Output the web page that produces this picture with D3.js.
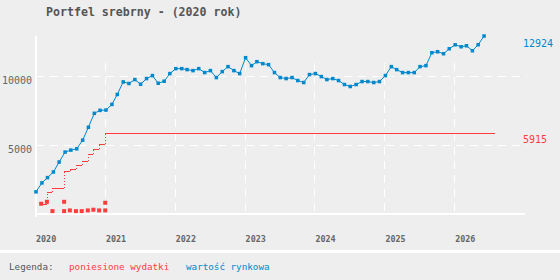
<!DOCTYPE html>
<html>
<head>
<meta charset="utf-8">
<script src="https://cdn.jsdelivr.net/npm/d3@7"></script>
<style>
    body { margin: 0; background: #eeeeee; }
    svg { display: block; font-family: "DejaVu Sans Mono", monospace; }
    .grid { stroke: #ffffff; stroke-width: 1.5; stroke-dasharray: 8,6; shape-rendering: crispEdges; }
    .axis { stroke: #ffffff; stroke-width: 2; shape-rendering: crispEdges; }
    .market { fill: none; stroke: #0088cc; stroke-width: 1; }
    .market-point { fill: #0088cc; }
    .spent { fill: #ff3c3c; shape-rendering: crispEdges; }
    .spent-step { stroke: #ff3c3c; stroke-width: 1; stroke-dasharray: 1,2; shape-rendering: crispEdges; }
    .purchase { fill: #ff3c3c; }
</style>
</head>
<body>
<svg id="chart" width="560" height="280"></svg>
<script>
// market value, one reading at the start of every month (stop is exclusive)
var marketStart = '2020-01-01';
var marketStop = '2026-07-01';
var marketValues = [
    1609, 2258, 2641, 3052, 3773, 4495, 4639, 4733, 5361, 6299, 7309, 7525,
    7547, 7958, 8680, 9589, 9473, 9762, 9423, 9834, 10050, 9495, 9639, 10195,
    10555, 10555, 10483, 10411, 10555, 10267, 10411, 9906, 10339, 10700, 10411, 10195,
    11349, 10772, 11061, 10916, 10844, 10267, 9906, 9834, 9906, 9690, 9545, 10123,
    10195, 9978, 9762, 9834, 9690, 9401, 9257, 9401, 9617, 9617, 9545, 9617,
    10050, 10700, 10483, 10267, 10267, 10267, 10700, 10772, 11710, 11782, 11638, 11999,
    12287, 12143, 12215, 11854, 12287, 12924
];

// cumulative expenses (step line)
var spentDates = ['2020-01-28', '2020-02-27', '2020-03-27', '2020-05-27', '2020-06-26', '2020-07-28',
    '2020-08-27', '2020-09-28', '2020-10-27', '2020-11-26', '2020-12-28'];
var spentValues = [743, 1609, 1898, 3124, 3268, 3557, 3845, 4350, 4711, 5072, 5915];
var spentStop = '2026-07-28';

// single purchases
var purchaseDates = ['2020-01-28', '2020-02-27', '2020-03-27', '2020-05-27', '2020-05-27', '2020-06-26',
    '2020-07-28', '2020-08-27', '2020-09-28', '2020-10-27', '2020-11-26', '2020-12-28', '2020-12-28'];
var purchaseValues = [743, 887, 209, 887, 209, 260, 209, 209, 260, 310, 260, 815, 260];

var yearTicks = [2020, 2021, 2022, 2023, 2024, 2025, 2026];
var valueTicks = [5000, 10000];

var title = 'Portfel srebrny - (2020 rok)';
var legendLabel = 'Legenda:';
var spentLabel = 'poniesione wydatki';
var marketLabel = 'wartość rynkowa';

var settings = {
    left: 36,
    right: 525,
    top: 36,
    bottom: 214,
    gridTop: 63,
    tickBottom: 217,
    gridRight: 527
};

var parse = d3.timeParse('%Y-%m-%d');
var svg = d3.select('#chart');

var marketMonths = d3.timeMonth.range(parse(marketStart), parse(marketStop));
var market = marketMonths.map(function(d, i) { return { date: d, value: marketValues[i] }; });
var spent = spentDates.map(function(d, i) { return { date: parse(d), value: spentValues[i] }; });
var purchases = purchaseDates.map(function(d, i) { return { date: parse(d), value: purchaseValues[i] }; });

var x = d3.scaleTime()
    .domain([new Date(2020, 0, 1), new Date(2027, 0, 1)])
    .range([settings.left, settings.right]);
var y = d3.scaleLinear()
    .domain([0, d3.max(marketValues)])
    .range([settings.bottom, settings.top]);

function yearDate(year) { return new Date(year, 0, 1); }

function drawLayout() {
    svg.append('rect')
        .attr('width', 560)
        .attr('height', 280)
        .attr('fill', '#eeeeee');

    // legend separator
    svg.append('rect')
        .attr('x', 0)
        .attr('y', 250)
        .attr('width', 560)
        .attr('height', 3)
        .attr('fill', '#ffffff');

    svg.append('text')
        .attr('x', 46)
        .attr('y', 16)
        .attr('font-size', 11.6)
        .attr('font-weight', 'bold')
        .attr('fill', '#555555')
        .text(title);
}

function drawGrid() {
    svg.selectAll('.hgrid')
            .data(valueTicks)
        .enter().append('line')
            .attr('class', 'grid hgrid')
            .attr('x1', settings.left)
            .attr('x2', settings.gridRight)
            .attr('y1', function(d) { return Math.round(y(d)) + 0.5; })
            .attr('y2', function(d) { return Math.round(y(d)) + 0.5; });

    svg.selectAll('.vgrid')
            .data(yearTicks.slice(1))
        .enter().append('line')
            .attr('class', 'grid vgrid')
            .attr('x1', function(d) { return Math.round(x(yearDate(d))) - 0.5; })
            .attr('x2', function(d) { return Math.round(x(yearDate(d))) - 0.5; })
            .attr('y1', settings.gridTop)
            .attr('y2', settings.tickBottom);

    // axes
    svg.append('line')
        .attr('class', 'axis')
        .attr('x1', settings.left)
        .attr('x2', settings.left)
        .attr('y1', settings.top)
        .attr('y2', settings.tickBottom);
    svg.append('line')
        .attr('class', 'axis')
        .attr('x1', settings.left)
        .attr('x2', settings.right)
        .attr('y1', settings.bottom)
        .attr('y2', settings.bottom);

    svg.selectAll('.ylabel')
            .data(valueTicks)
        .enter().append('text')
            .attr('class', 'ylabel')
            .attr('x', 32)
            .attr('y', function(d) { return y(d) + 8; })
            .attr('text-anchor', 'end')
            .attr('font-size', 10)
            .attr('fill', '#666666')
            .text(function(d) { return d; });

    svg.selectAll('.xlabel')
            .data(yearTicks)
        .enter().append('text')
            .attr('class', 'xlabel')
            .attr('x', function(d) { return x(yearDate(d)); })
            .attr('y', 242)
            .attr('font-size', 8.4)
            .attr('font-weight', 'bold')
            .attr('fill', '#666666')
            .text(function(d) { return d; });
}

function drawSpent() {
    var steps = spent.map(function(d, i) {
        var next = i < spent.length - 1 ? spent[i + 1].date : parse(spentStop);
        return { from: d.date, to: next, value: d.value, prev: i > 0 ? spent[i - 1].value : null };
    });

    // horizontal parts of the step line, 1px high
    svg.selectAll('.spent')
            .data(steps)
        .enter().append('rect')
            .attr('class', 'spent')
            .attr('x', function(d) { return Math.round(x(d.from)); })
            .attr('y', function(d) { return Math.round(y(d.value)); })
            .attr('width', function(d) { return Math.round(x(d.to)) - Math.round(x(d.from)); })
            .attr('height', 1);

    svg.selectAll('.spent-step')
            .data(steps.filter(function(d) { return d.prev !== null; }))
        .enter().append('line')
            .attr('class', 'spent-step')
            .attr('x1', function(d) { return Math.round(x(d.from)) + 0.5; })
            .attr('x2', function(d) { return Math.round(x(d.from)) + 0.5; })
            .attr('y1', function(d) { return y(d.prev); })
            .attr('y2', function(d) { return y(d.value); });

    svg.selectAll('.purchase')
            .data(purchases)
        .enter().append('rect')
            .attr('class', 'purchase')
            .attr('x', function(d) { return x(d.date) - 2; })
            .attr('y', function(d) { return y(d.value) - 2; })
            .attr('width', 4)
            .attr('height', 4);
}

function drawMarket() {
    var line = d3.line()
        .x(function(d) { return x(d.date); })
        .y(function(d) { return y(d.value); });

    svg.append('path')
        .datum(market)
        .attr('class', 'market')
        .attr('d', line);

    svg.selectAll('.market-point')
            .data(market)
        .enter().append('rect')
            .attr('class', 'market-point')
            .attr('x', function(d) { return x(d.date) - 1.75; })
            .attr('y', function(d) { return y(d.value) - 1.75; })
            .attr('width', 3.5)
            .attr('height', 3.5);
}

function drawEndLabels() {
    var lastMarket = market[market.length - 1];
    var lastSpent = spent[spent.length - 1];

    svg.append('text')
        .attr('x', 523)
        .attr('y', y(lastMarket.value) + 10.5)
        .attr('font-size', 10)
        .attr('fill', '#0088cc')
        .text(lastMarket.value);

    svg.append('text')
        .attr('x', 523)
        .attr('y', y(lastSpent.value) + 10.5)
        .attr('font-size', 10)
        .attr('fill', '#ff3c3c')
        .text(lastSpent.value);
}

function drawLegend() {
    var legend = svg.append('g')
        .attr('font-size', 9.25);

    legend.append('text')
        .attr('x', 9)
        .attr('y', 270)
        .attr('fill', '#555555')
        .text(legendLabel);
    legend.append('text')
        .attr('x', 69)
        .attr('y', 270)
        .attr('fill', '#ff3c3c')
        .text(spentLabel);
    legend.append('text')
        .attr('x', 186)
        .attr('y', 270)
        .attr('fill', '#0088cc')
        .text(marketLabel);
}

drawLayout();
drawGrid();
drawSpent();
drawMarket();
drawEndLabels();
drawLegend();
</script>
</body>
</html>
